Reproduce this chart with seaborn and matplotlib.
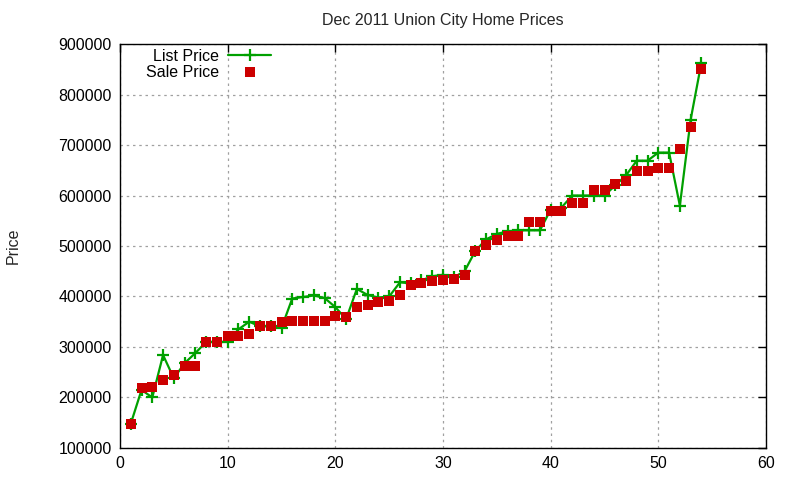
import matplotlib
matplotlib.use("Agg")
import matplotlib.pyplot as plt
import seaborn as sns
import pandas as pd

idx = list(range(1, 55))
list_price = [148000, 215000, 200000, 284000, 238000, 268000, 288000, 310000, 310000, 310000,
              335000, 350000, 341000, 341000, 338000, 396000, 399000, 402000, 397000, 379000,
              355000, 415000, 403000, 398000, 400000, 428000, 426000, 432000, 440000, 443000,
              438000, 450000, 490000, 513000, 524000, 529000, 531000, 531000, 531000, 572000,
              576000, 600000, 600000, 600000, 600000, 620000, 640000, 669000, 669000, 685000,
              685000, 580000, 750000, 863000]
sale_price = [148000, 219000, 221000, 235000, 245000, 262000, 262000, 310000, 310000, 321000,
              321000, 326000, 341000, 341000, 349000, 351000, 351000, 351000, 351000, 361000,
              360000, 380000, 384000, 390000, 392000, 402000, 422000, 426000, 430000, 432000,
              435000, 442000, 491000, 501000, 511000, 519000, 519000, 547000, 547000, 570000,
              570000, 586000, 586000, 610000, 610000, 622000, 628000, 649000, 649000, 655000,
              655000, 693000, 736000, 851000]

df = pd.DataFrame({"idx": idx, "List Price": list_price, "Sale Price": sale_price})

sns.set_theme(style="white")
plt.rcParams["font.family"] = ["Liberation Sans", "DejaVu Sans"]

fig = plt.figure(figsize=(8, 4.8), dpi=100)
ax = fig.add_axes([0.15, 0.0667, 0.8075, 0.8416])

sns.lineplot(data=df, x="idx", y="List Price", ax=ax, color="#00a000", linewidth=1.6,
             marker="+", markersize=9, markeredgewidth=1.6, markeredgecolor="#00a000",
             label="List Price")
sns.scatterplot(data=df, x="idx", y="Sale Price", ax=ax, color="#cc0000", marker="s",
                s=50, linewidth=0, label="Sale Price", zorder=3)

ax.set_xlim(0, 60)
ax.set_ylim(100000, 900000)
ax.set_xticks(range(0, 61, 10))
ax.set_yticks(range(100000, 900001, 100000))
ax.set_yticklabels([str(v) for v in range(100000, 900001, 100000)])
ax.grid(True, color="#a0a0a0", linestyle=(0, (2, 3)), linewidth=0.9)
for s in ax.spines.values():
    s.set_color("black")
    s.set_linewidth(1.0)
ax.tick_params(direction="in", length=6, width=1, top=True, right=True,
               labelsize=11.5, colors="black", pad=6)
ax.set_xlabel("")
ax.set_ylabel("Price", fontsize=11.5, labelpad=27)
ax.set_title("Dec 2011 Union City Home Prices", fontsize=11.5, pad=14)

leg = ax.legend(loc="upper left", bbox_to_anchor=(0.033, 1.0), frameon=False,
                markerfirst=False, fontsize=11.5, handlelength=2.7, handletextpad=0.55,
                labelspacing=0.05, borderaxespad=0.1, borderpad=0.2)
for t in leg.get_texts():
    t.set_color("black")

fig.savefig("out.png", dpi=100)
